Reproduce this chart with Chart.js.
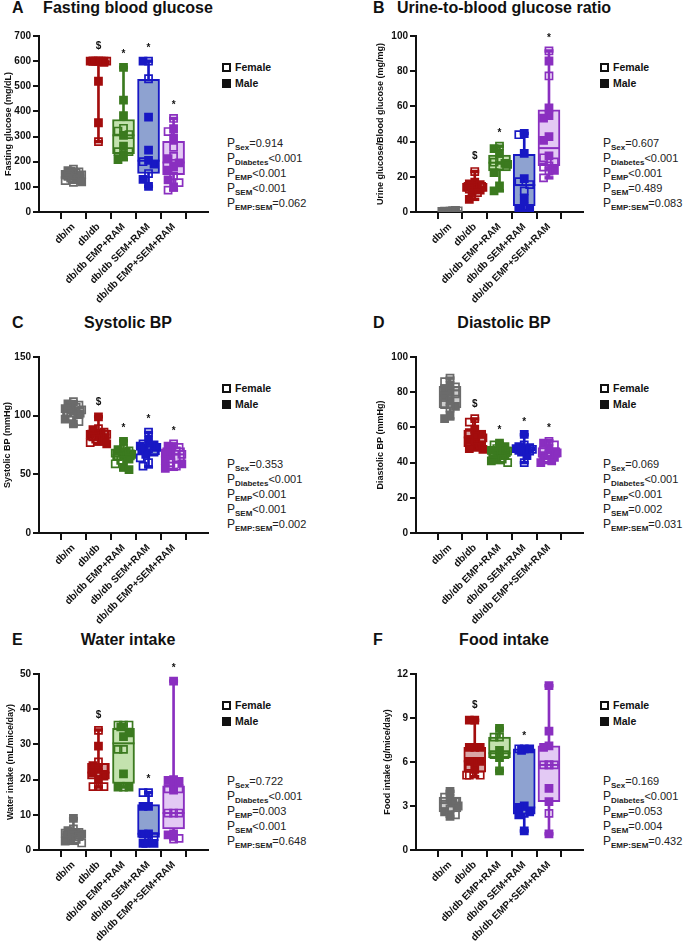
<!DOCTYPE html>
<html>
<head>
<meta charset="utf-8">
<script src="https://cdn.jsdelivr.net/npm/chart.js@4.4.0/dist/chart.umd.min.js"></script>
<style>
  body { margin: 0; background: #fff; font-family: 'Liberation Sans', Arial, sans-serif; }
  #fig { position: relative; width: 684px; height: 942px; overflow: hidden; }
  #fig canvas { position: absolute; }
  .letter, .title { position: absolute; font-weight: bold; font-size: 16px; line-height: 18px; white-space: nowrap; color: #111; }
  .title { transform: translateX(-50%); }
  .leg { position: absolute; font-weight: bold; font-size: 10.5px; line-height: 12px; white-space: nowrap; color: #111; }
  .sq { display: inline-block; box-sizing: border-box; width: 9px; height: 9px; border: 2px solid #111; margin-right: 4px; vertical-align: -1px; }
  .sq.fill { background: #111; }
  .pv { position: absolute; font-size: 11px; line-height: 15px; color: #222; white-space: nowrap; }
  .pv b { font-size: 12px; font-weight: normal; }
  .pv sub { font-size: 8px; font-weight: bold; vertical-align: -3px; line-height: 0; }
</style>
</head>
<body>
<div id="fig"></div>
<script>
// ── DATA ─────────────────────────────────────
const groups = ['db/m', 'db/db', 'db/db EMP+RAM', 'db/db SEM+RAM', 'db/db EMP+SEM+RAM'];
const pNames = ['Sex', 'Diabetes', 'EMP', 'SEM', 'EMP:SEM'];

// box = [min, q1, median, q3, max]; sex 1 = male (filled), 0 = female (open)
const glucoseVals = [
  [170, 165, 160, 162, 155, 150, 148, 145, 142, 140, 135, 130, 125, 120, 118],
  [600, 600, 600, 600, 600, 600, 600, 600, 600, 595, 520, 355, 280],
  [575, 445, 383, 333, 322, 308, 305, 262, 240, 240, 228, 208],
  [600, 600, 530, 377, 246, 205, 200, 190, 153, 130, 102],
  [372, 332, 320, 295, 257, 221, 212, 195, 181, 167, 144, 128, 117, 100, 87]
];
const glucoseSex = [
  [0, 1, 0, 1, 0, 1, 0, 1, 0, 1, 0, 1, 0, 1, 0],
  [1, 0, 1, 1, 0, 1, 0, 1, 1, 0, 1, 1, 0],
  [1, 1, 1, 0, 0, 0, 1, 1, 0, 0, 1, 1],
  [0, 1, 0, 1, 1, 1, 0, 1, 0, 1, 1],
  [0, 1, 0, 1, 0, 0, 1, 1, 1, 1, 0, 1, 0, 1, 0]
];
const glucoseBox = [[118, 130, 145, 162, 170], [280, 590, 600, 600, 600], [208, 232, 305, 368, 575], [102, 153, 204, 528, 600], [87, 148, 197, 281, 372]];
const glucoseMarks = ['', '$', '*', '*', '*'];
const glucoseP = ['=0.914', '<0.001', '<0.001', '<0.001', '=0.062'];

const ratioVals = [
  [0.5, 0.3, 0.8, 0.2, 0.6, 0.4, 0.7, 0.3, 0.5, 0.9, 0.1, 0.6],
  [23, 17, 16, 15.5, 15, 14, 14, 13.5, 13, 12.5, 12, 11, 7.2],
  [37.4, 36, 33.3, 29.3, 28.3, 27.6, 27, 26.3, 22.4, 14.8, 12],
  [44.6, 43.9, 33.3, 19, 17.2, 15.6, 12, 7.6, 2.8, 1, 1],
  [91.5, 85.8, 77.3, 59.2, 54.7, 53.4, 42.8, 40.7, 31.9, 30.8, 28.5, 26.2, 25.5, 23.7, 23.2, 19.4]
];
const ratioSex = [
  [0, 1, 0, 1, 0, 1, 0, 1, 0, 1, 0, 1],
  [0, 1, 1, 0, 1, 1, 0, 1, 0, 1, 1, 0, 1],
  [0, 1, 1, 0, 0, 1, 1, 0, 1, 1, 1],
  [1, 0, 1, 1, 0, 0, 0, 1, 0, 1, 1],
  [0, 1, 0, 1, 1, 1, 1, 1, 1, 0, 0, 0, 0, 1, 0, 0]
];
const ratioBox = [[0.1, 0.3, 0.5, 0.7, 0.9], [7.2, 11.8, 14, 16.8, 23], [12, 23.4, 28, 32.3, 37.4], [0.8, 3.6, 15.3, 32.7, 44.6], [19.4, 26.3, 36.3, 58, 91.5]];
const ratioMarks = ['', '$', '*', '', '*'];
const ratioP = ['=0.607', '<0.001', '<0.001', '=0.489', '=0.083'];

const sbpVals = [
  [112, 110, 109, 108, 107, 106, 105, 104, 103, 101, 99, 97, 95, 93],
  [99, 89, 88, 86, 85, 84, 84, 83, 82, 81, 80, 79, 77, 76],
  [78, 72, 71, 70, 69, 68, 67, 66, 65, 63, 62, 59, 56, 54],
  [86, 79, 76, 75, 74, 74, 73, 72, 71, 69, 67, 64, 60, 57],
  [76, 74, 73, 72, 70, 68, 67, 66, 64, 62, 60, 59, 57, 55]
];
const sbpSex = [
  [0, 1, 0, 1, 0, 1, 0, 1, 0, 1, 0, 1, 0, 1],
  [1, 0, 1, 0, 1, 1, 0, 1, 0, 1, 0, 1, 0, 1],
  [1, 0, 1, 0, 1, 0, 1, 1, 0, 1, 0, 0, 1, 1],
  [0, 1, 0, 1, 0, 1, 1, 0, 1, 0, 1, 0, 0, 0],
  [0, 1, 0, 1, 0, 1, 0, 1, 0, 1, 0, 1, 0, 1]
];
const sbpBox = [[92, 98.6, 104, 107.7, 112], [75.7, 79, 84, 88, 99], [54, 62, 66.6, 71, 78.6], [56.3, 66.6, 73.7, 75.7, 85.7], [54.3, 59.4, 67, 72.9, 76]];
const sbpMarks = ['', '$', '*', '*', '*'];
const sbpP = ['=0.353', '<0.001', '<0.001', '<0.001', '=0.002'];

const dbpVals = [
  [88, 86, 84, 83, 82, 80, 79, 78, 77, 75, 73, 72, 71, 67, 65],
  [65, 63, 59, 57, 56, 55, 54, 53, 52, 51, 50, 49, 48, 47.5],
  [51, 50, 49, 48, 47.5, 47, 46.5, 46, 45, 44, 43, 42, 41, 40],
  [56, 50, 49, 48.5, 48, 48, 47.5, 47, 47, 46.5, 46, 44, 40],
  [52, 51, 50, 48, 47, 46, 45.5, 45, 44, 43, 42, 41, 40]
];
const dbpSex = [
  [0, 0, 1, 0, 1, 1, 0, 1, 0, 1, 0, 1, 0, 1, 1],
  [0, 0, 1, 0, 1, 1, 0, 1, 0, 1, 1, 0, 1, 1],
  [1, 0, 1, 0, 1, 1, 0, 1, 0, 1, 1, 0, 1, 0],
  [1, 0, 1, 0, 1, 1, 0, 1, 1, 0, 1, 1, 0],
  [0, 1, 0, 1, 0, 1, 1, 0, 1, 1, 0, 1, 1]
];
const dbpBox = [[64.8, 71, 78, 83.4, 88], [47.2, 49, 54.3, 58.5, 64.8], [40, 43.4, 46.5, 49, 51], [40, 46.5, 47.5, 49, 55.8], [40, 42.9, 45.3, 48.6, 52.4]];
const dbpMarks = ['', '$', '*', '*', '*'];
const dbpP = ['=0.069', '<0.001', '<0.001', '=0.002', '=0.031'];

const waterVals = [
  [9, 6, 5.5, 5, 5, 4.8, 4.5, 4.3, 4, 3.8, 3.5, 3, 2.5, 2],
  [34, 29.5, 25, 24, 23.5, 23, 22, 22, 21.5, 21, 20, 18, 18, 18],
  [35.5, 35.5, 35.5, 35, 33.3, 32.2, 28.6, 28.6, 21.6, 17.9, 17.9, 17.9],
  [16.3, 16.3, 12.4, 12.4, 4.6, 4.5, 3.8, 3.7, 1.9, 1.9, 1.9],
  [48, 20, 19.8, 19.5, 17.5, 17.4, 17.4, 17, 10.5, 10.5, 10.5, 4.6, 4.3, 3.3, 3.1]
];
const waterSex = [
  [1, 0, 1, 0, 1, 0, 1, 0, 1, 0, 1, 0, 1, 0],
  [0, 1, 0, 1, 0, 1, 1, 0, 1, 0, 1, 0, 0, 0],
  [0, 0, 0, 1, 1, 1, 0, 0, 1, 0, 1, 1],
  [0, 0, 1, 1, 1, 1, 0, 0, 1, 1, 1],
  [1, 1, 1, 1, 1, 0, 0, 1, 0, 0, 0, 1, 1, 0, 0]
];
const waterBox = [[1.9, 3.1, 4.5, 5.5, 8.9], [17.9, 20.1, 22, 24.6, 34.1], [17.9, 18.9, 30.3, 34.6, 35.5], [1.9, 3.6, 4.6, 12.9, 16.3], [3.1, 6, 10.5, 18.2, 48]];
const waterMarks = ['', '$', '', '*', '*'];
const waterP = ['=0.722', '<0.001', '=0.003', '<0.001', '=0.648'];

const foodVals = [
  [4.0, 3.6, 3.5, 3.3, 3.2, 3.1, 3.0, 2.8, 2.6, 2.4, 2.3],
  [8.85, 8.85, 7, 7, 7, 6.05, 6.05, 6.05, 5.7, 5.5, 5.1, 5.1, 5.1],
  [8.3, 7.7, 7.7, 6.8, 6.5, 6.5, 6.3, 5.4],
  [6.9, 6.9, 6.9, 6.8, 3.0, 2.9, 2.6, 2.5, 2.4, 1.3],
  [11.2, 8.1, 7.1, 7.0, 5.8, 5.8, 5.8, 5.8, 4.2, 3.3, 2.5, 1.1]
];
const foodSex = [
  [1, 0, 1, 0, 1, 0, 1, 0, 1, 0, 1],
  [1, 1, 1, 1, 1, 1, 1, 1, 0, 1, 0, 0, 0],
  [1, 0, 0, 1, 0, 0, 1, 1],
  [1, 0, 1, 1, 1, 1, 1, 0, 1, 1],
  [1, 1, 1, 1, 0, 0, 0, 0, 1, 1, 0, 1]
];
const foodBox = [[2.3, 2.6, 3.2, 3.6, 4.0], [5.0, 5.3, 6.05, 7.0, 8.85], [5.4, 6.3, 6.6, 7.7, 8.3], [1.3, 2.45, 2.9, 6.9, 6.9], [1.1, 3.3, 5.8, 7.1, 11.2]];
const foodMarks = ['', '$', '', '*', ''];
const foodP = ['=0.169', '<0.001', '=0.053', '=0.004', '=0.432'];

// ── STYLE / LAYOUT ───────────────────────────
const FONT = "'Liberation Sans', Arial, sans-serif";
const lineColors = ['#6b6b6b', '#a30d0d', '#3b7a1f', '#1818c4', '#8a2fc0'];
const fillColors = ['#cdcdcd', '#d9a6a6', '#c3e2ae', '#8ea2d0', '#e3c9f4'];

const colAxis   = [39, 416];
const colPlotW  = [178, 176];
const colLetter = [12, 373];
const colLeg    = [222, 600];
const colP      = [227, 603];
const rowTop    = [36, 357, 674];
const rowTitle  = [8, 323, 640];
const plotH = 176, padTop = 26, xAxisH = 95;

const panels = [
  { letter: 'A', title: 'Fasting blood glucose', yTitle: 'Fasting glucose (mg/dL)', yMax: 700, step: 100, yW: 39,
    vals: glucoseVals, sex: glucoseSex, box: glucoseBox, marks: glucoseMarks, p: glucoseP },
  { letter: 'B', title: 'Urine-to-blood glucose ratio', yTitle: 'Urine glucose/Blood glucose (mg/mg)', yMax: 100, step: 20, yW: 44,
    vals: ratioVals, sex: ratioSex, box: ratioBox, marks: ratioMarks, p: ratioP },
  { letter: 'C', title: 'Systolic BP', yTitle: 'Systolic BP (mmHg)', yMax: 150, step: 50, yW: 40,
    vals: sbpVals, sex: sbpSex, box: sbpBox, marks: sbpMarks, p: sbpP },
  { letter: 'D', title: 'Diastolic BP', yTitle: 'Diastolic BP (mmHg)', yMax: 100, step: 20, yW: 44,
    vals: dbpVals, sex: dbpSex, box: dbpBox, marks: dbpMarks, p: dbpP },
  { letter: 'E', title: 'Water intake', yTitle: 'Water intake (mL/mice/day)', yMax: 50, step: 10, yW: 37,
    vals: waterVals, sex: waterSex, box: waterBox, marks: waterMarks, p: waterP },
  { letter: 'F', title: 'Food intake', yTitle: 'Food intake (g/mice/day)', yMax: 12, step: 3, yW: 37,
    vals: foodVals, sex: foodSex, box: foodBox, marks: foodMarks, p: foodP }
];

// spread points of one group sideways so they don't sit on top of each other
function swarm(vals, pxY) {
  const cand = [0, -0.22, 0.22, -0.11, 0.11, -0.33, 0.33];
  const placed = [];
  return vals.map((v, i) => {
    let off = cand.find(c => placed.every(p => Math.abs(p.o - c) * 33 >= 7 || Math.abs(p.v - v) * pxY >= 7));
    if (off === undefined) off = cand[i % cand.length];
    placed.push({ o: off, v });
    return off;
  });
}

function markPlugin(panel) {
  return {
    id: 'marks' + panel.letter,
    afterDatasetsDraw(chart) {
      const { ctx, scales: { x, y } } = chart;
      ctx.save();
      ctx.fillStyle = '#111';
      ctx.font = 'bold 10px ' + FONT;
      ctx.textAlign = 'center';
      ctx.textBaseline = 'middle';
      panel.marks.forEach((m, i) => {
        if (!m) return;
        const yy = y.getPixelForValue(panel.box[i][4]) - 15 + (m === '*' ? 2 : 0);
        ctx.fillText(m, x.getPixelForValue(i), yy);
      });
      ctx.restore();
    }
  };
}

function el(cls, html, left, top) {
  const d = document.createElement('div');
  d.className = cls;
  d.innerHTML = html;
  d.style.left = left + 'px';
  d.style.top = top + 'px';
  document.getElementById('fig').appendChild(d);
  return d;
}

// ── BUILD PANELS ─────────────────────────────
panels.forEach((panel, k) => {
  const col = k % 2, row = Math.floor(k / 2);
  const axisX = colAxis[col], plotW = colPlotW[col], top = rowTop[row];

  // texts
  el('letter', panel.letter, colLetter[col], rowTitle[row] - 9);
  el('title', panel.title, axisX + plotW / 2, rowTitle[row] - 9);
  el('leg', '<span class="sq"></span>Female', colLeg[col], top + 25);
  el('leg', '<span class="sq fill"></span>Male', colLeg[col], top + 41);
  el('pv', pNames.map((n, i) => '<b>P</b><sub>' + n + '</sub>' + panel.p[i]).join('<br>'), colP[col], top + 100);

  // canvas
  const cv = document.createElement('canvas');
  const cw = panel.yW + plotW + 4, ch = padTop + plotH + xAxisH;
  cv.width = cw; cv.height = ch;
  cv.style.left = (axisX - panel.yW) + 'px';
  cv.style.top = (top - padTop) + 'px';
  document.getElementById('fig').appendChild(cv);

  // points
  const pxY = plotH / panel.yMax;
  const open = [], filled = [];
  panel.vals.forEach((vals, g) => {
    const offs = swarm(vals, pxY);
    vals.forEach((v, j) => {
      const pt = { x: g + offs[j], y: v, g };
      (panel.sex[g][j] ? filled : open).push(pt);
    });
  });

  const datasets = [
    { type: 'bar', order: 4, grouped: false, barThickness: 2,
      data: panel.box.map((b, i) => ({ x: i, y: [b[0], b[4]] })),
      backgroundColor: lineColors },
    { type: 'bar', order: 3, grouped: false, barThickness: 22, borderWidth: 2, borderSkipped: false,
      data: panel.box.map((b, i) => ({ x: i, y: [b[1], b[3]] })),
      backgroundColor: fillColors, borderColor: lineColors },
    { type: 'scatter', order: 2, pointStyle: 'line', pointRadius: 11, pointBorderWidth: 2,
      data: panel.box.map((b, i) => ({ x: i, y: b[2] })),
      pointBorderColor: lineColors },
    { type: 'scatter', order: 2, pointStyle: 'line', pointRadius: 4.5, pointBorderWidth: 3.5,
      data: panel.box.flatMap((b, i) => [{ x: i, y: b[0] }, { x: i, y: b[4] }]),
      pointBorderColor: panel.box.flatMap((b, i) => [lineColors[i], lineColors[i]]) },
    { type: 'scatter', order: 1, pointStyle: 'rect', pointRadius: 5, pointBorderWidth: 1.7,
      data: open.map(p => ({ x: p.x, y: p.y })),
      pointBorderColor: open.map(p => lineColors[p.g]), pointBackgroundColor: 'rgba(0,0,0,0)' },
    { type: 'scatter', order: 1, pointStyle: 'rect', pointRadius: 5, pointBorderWidth: 1.7,
      data: filled.map(p => ({ x: p.x, y: p.y })),
      pointBorderColor: filled.map(p => lineColors[p.g]), pointBackgroundColor: filled.map(p => lineColors[p.g]) }
  ];

  new Chart(cv.getContext('2d'), {
    type: 'scatter',
    data: { datasets },
    plugins: [markPlugin(panel)],
    options: {
      responsive: false, animation: false, events: [],
      layout: { padding: { top: padTop, right: 4, left: 0, bottom: 0 } },
      plugins: { legend: { display: false }, tooltip: { enabled: false } },
      scales: {
        x: {
          type: 'linear', min: -0.7, max: 4.7,
          afterBuildTicks: s => { s.ticks = groups.map((g, i) => ({ value: i })); },
          afterFit: s => { s.height = xAxisH; },
          grid: { drawOnChartArea: false, color: '#111', lineWidth: 2, tickLength: 7 },
          border: { color: '#111', width: 2 },
          ticks: {
            color: '#111', autoSkip: false, maxRotation: 45, minRotation: 45, padding: 2,
            font: { family: FONT, size: 10, weight: 'bold' },
            callback: v => groups[v]
          }
        },
        y: {
          min: 0, max: panel.yMax,
          afterFit: s => { s.width = panel.yW; },
          grid: { drawOnChartArea: false, color: '#111', lineWidth: 2, tickLength: 6 },
          border: { color: '#111', width: 2 },
          ticks: { stepSize: panel.step, color: '#111', padding: 2, font: { family: FONT, size: 10, weight: 'bold' } },
          title: { display: true, text: panel.yTitle, color: '#111', padding: { top: 3, bottom: 0 },
                   font: { family: FONT, size: 9, weight: 'bold' } }
        }
      }
    }
  });
});
</script>
</body>
</html>
